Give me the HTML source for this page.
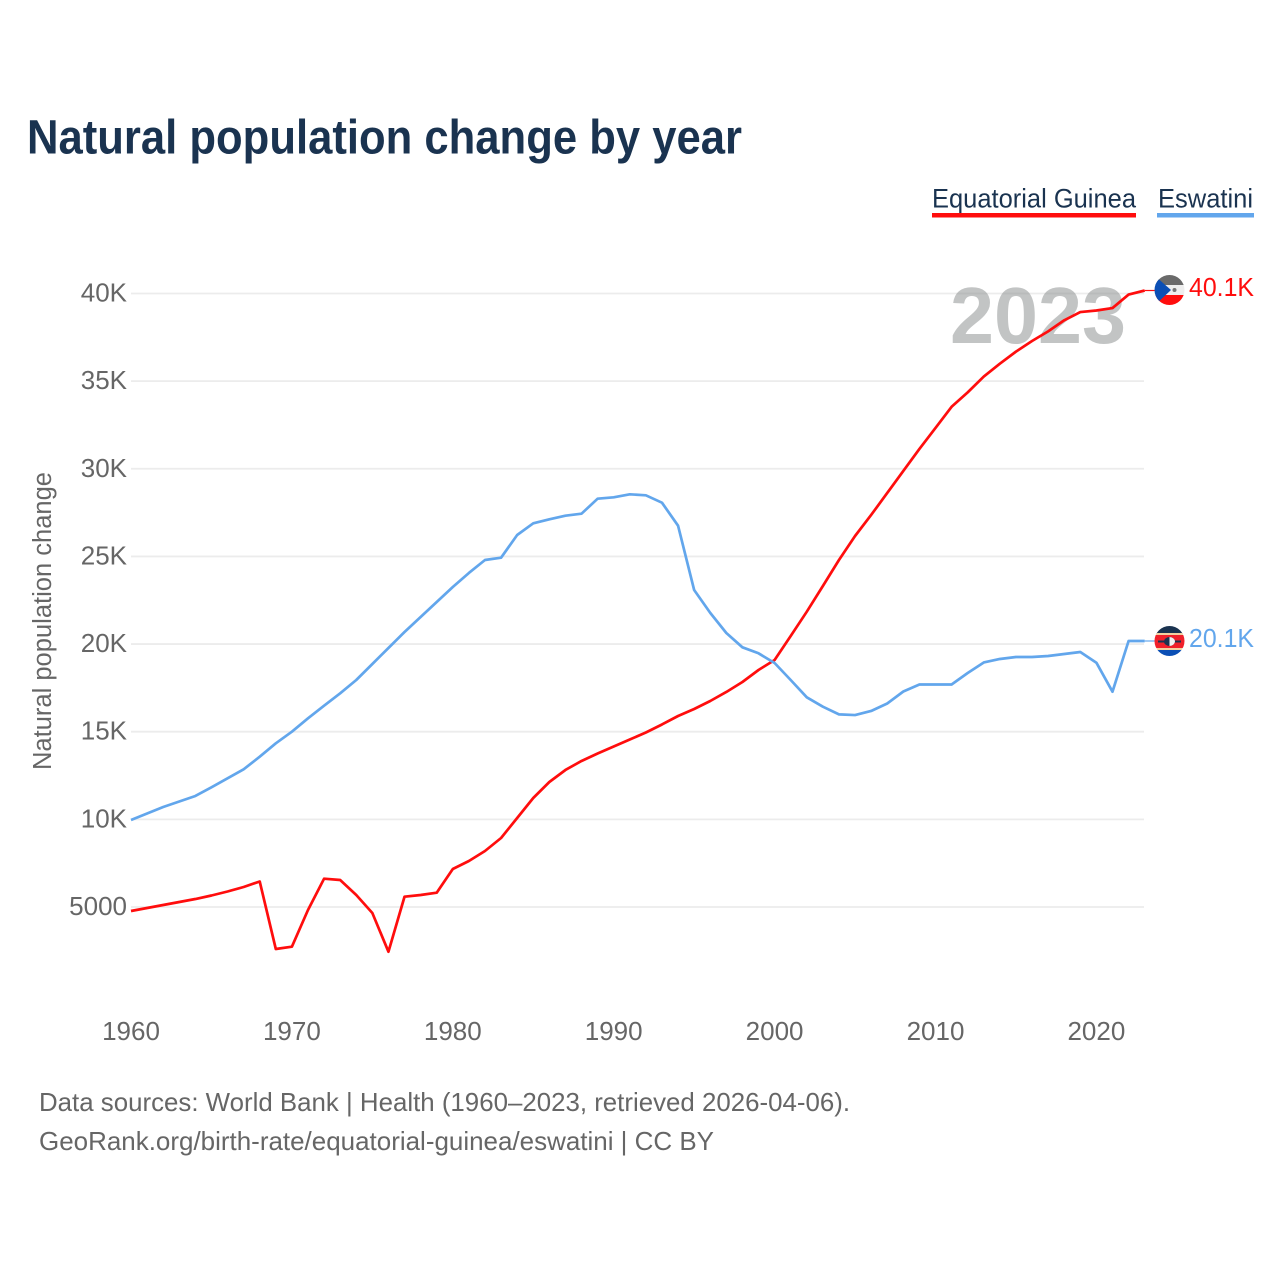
<!DOCTYPE html>
<html lang="en">
<head>
<meta charset="utf-8">
<title>Natural population change by year</title>
<style>
html,body{margin:0;padding:0;background:#fff;width:1280px;height:1280px;overflow:hidden}
svg{display:block;font-family:"Liberation Sans",sans-serif}
</style>
</head>
<body>
<svg id="chart" width="1280" height="1280" viewBox="0 0 1280 1280" xmlns="http://www.w3.org/2000/svg">
  <defs>
    <clipPath id="flag-clip-a"><circle cx="1169.5" cy="290" r="15"/></clipPath>
    <clipPath id="flag-clip-b"><circle cx="1169.5" cy="641" r="15"/></clipPath>
  </defs>
  <text x="27" y="153.5" font-size="48" font-weight="700" fill="#1a3350" textLength="715" lengthAdjust="spacingAndGlyphs">Natural population change by year</text>

  <text x="932" y="207.5" font-size="26.5" fill="#1a3350" textLength="204" lengthAdjust="spacingAndGlyphs">Equatorial Guinea</text>
  <rect x="932" y="213" width="204" height="4.5" fill="#ff0d0d"/>
  <text x="1158" y="207.5" font-size="26.5" fill="#1a3350" textLength="95" lengthAdjust="spacingAndGlyphs">Eswatini</text>
  <rect x="1157" y="213" width="97" height="4.5" fill="#62a6ec"/>

  <g id="grid"></g>
  <g id="y-ticks"></g>
  <g id="x-ticks"></g>

  <text transform="translate(51 621) rotate(-90)" text-anchor="middle" font-size="25.5" fill="#666" textLength="298" lengthAdjust="spacingAndGlyphs">Natural population change</text>

  <text x="950" y="343" font-size="80" font-weight="700" fill="#8a8e8e" fill-opacity="0.52" textLength="176" lengthAdjust="spacingAndGlyphs">2023</text>

  <g id="series"></g>

  <g clip-path="url(#flag-clip-a)">
    <rect x="1154" y="275" width="31" height="10" fill="#6a6a6a"/>
    <rect x="1154" y="285" width="31" height="10" fill="#eeeeee"/>
    <rect x="1154" y="295" width="31" height="11" fill="#ff0d0d"/>
    <polygon points="1154,275 1154,306 1171,290" fill="#0b4fb5"/>
    <circle cx="1174.5" cy="290" r="2" fill="#777"/>
  </g>
  <g clip-path="url(#flag-clip-b)">
    <rect x="1154" y="626" width="31" height="8" fill="#1a3350"/>
    <rect x="1154" y="633" width="31" height="2" fill="#f3d0a0"/>
    <rect x="1154" y="635" width="31" height="13" fill="#f0202a"/>
    <rect x="1154" y="648" width="31" height="2" fill="#f3d0a0"/>
    <rect x="1154" y="650" width="31" height="7" fill="#0b4fb5"/>
    <rect x="1158" y="640.5" width="23" height="2" fill="#1a3350"/>
    <ellipse cx="1169.5" cy="641.5" rx="5.5" ry="4.5" fill="#1a3350"/>
    <path d="M1169.5 637 a5.5 4.5 0 0 1 0 9 z" fill="#f2f2f2"/>
  </g>

  <text x="1189" y="296" font-size="26" fill="#ff0d0d" textLength="65" lengthAdjust="spacingAndGlyphs">40.1K</text>
  <text x="1189" y="647" font-size="26" fill="#62a6ec" textLength="65" lengthAdjust="spacingAndGlyphs">20.1K</text>

  <text x="39" y="1111" font-size="26" fill="#666" textLength="811" lengthAdjust="spacingAndGlyphs">Data sources: World Bank | Health (1960–2023, retrieved 2026-04-06).</text>
  <text x="39" y="1150" font-size="26" fill="#666" textLength="675" lengthAdjust="spacingAndGlyphs">GeoRank.org/birth-rate/equatorial-guinea/eswatini | CC BY</text>
</svg>
<script>
const firstYear = 1960;
const yTickValues = [5000, 10000, 15000, 20000, 25000, 30000, 35000, 40000];
const yTickLabels = ["5000", "10K", "15K", "20K", "25K", "30K", "35K", "40K"];
const xTickValues = [1960, 1970, 1980, 1990, 2000, 2010, 2020];
const equatorialGuinea = [
  4772, 4943, 5114, 5285, 5456, 5656, 5884, 6141, 6455, 2604,
  2735, 4829, 6615, 6540, 5685, 4658, 2450, 5588, 5685, 5816,
  7168, 7624, 8195, 8936, 10077, 11218, 12131, 12816, 13330, 13757,
  14157, 14556, 14955, 15412, 15896, 16296, 16752, 17266, 17836, 18520,
  19090, 20460, 21847, 23313, 24796, 26165, 27364, 28619, 29874, 31130,
  32327, 33536, 34360, 35260, 35996, 36683, 37290, 37840, 38470, 38940,
  39030, 39170, 39940, 40170
];
const eswatini = [
  9963, 10334, 10705, 11019, 11333, 11829, 12342, 12855, 13574, 14339,
  15001, 15765, 16484, 17192, 17950, 18863, 19776, 20689, 21545, 22400,
  23256, 24055, 24796, 24928, 26222, 26890, 27118, 27323, 27437, 28293,
  28373, 28544, 28487, 28065, 26753, 23085, 21780, 20632, 19815, 19474,
  18920, 17950, 16963, 16427, 15990, 15951, 16182, 16610, 17294, 17694,
  17694, 17694, 18350, 18949, 19149, 19263, 19263, 19320, 19434, 19548,
  18937, 17283, 20175, 20175
];

const NS = "http://www.w3.org/2000/svg";
function xScale(year) { return 131 + (year - 1960) * 16.09; }
function yScale(v) { return 907 - (v - 5000) * 0.017529; }

const grid = document.getElementById("grid");
const yTicks = document.getElementById("y-ticks");
const xTicks = document.getElementById("x-ticks");
const seriesGroup = document.getElementById("series");

yTickValues.forEach(function (v, i) {
  const line = document.createElementNS(NS, "line");
  
  
  line.setAttribute("x1", xScale(1960));
  line.setAttribute("x2", 1144);
  line.setAttribute("y1", yScale(v));
  line.setAttribute("y2", yScale(v));
  line.setAttribute("stroke", "#ececec");
  line.setAttribute("stroke-width", "1.8");
  grid.appendChild(line);

  const label = document.createElementNS(NS, "text");
  
  
  label.setAttribute("x", 127);
  label.setAttribute("y", yScale(v) + 8);
  label.setAttribute("text-anchor", "end");
  label.setAttribute("font-size", "26");
  label.setAttribute("fill", "#666");
  label.textContent = yTickLabels[i];
  yTicks.appendChild(label);
});

xTickValues.forEach(function (year) {
  const label = document.createElementNS(NS, "text");
  
  
  label.setAttribute("x", xScale(year));
  label.setAttribute("y", 1040);
  label.setAttribute("text-anchor", "middle");
  label.setAttribute("font-size", "26");
  label.setAttribute("fill", "#666");
  label.textContent = String(year);
  xTicks.appendChild(label);
});

function pointsFor(values) {
  return values.map(function (v, i) {
    return xScale(firstYear + i).toFixed(2) + "," + yScale(v).toFixed(2);
  }).join(" ");
}

const redLine = document.createElementNS(NS, "polyline");


redLine.setAttribute("points", pointsFor(equatorialGuinea));
redLine.setAttribute("fill", "none");
redLine.setAttribute("stroke", "#ff0d0d");
redLine.setAttribute("stroke-width", "2.7");
redLine.setAttribute("stroke-linejoin", "round");
seriesGroup.appendChild(redLine);

const blueLine = document.createElementNS(NS, "polyline");


blueLine.setAttribute("points", pointsFor(eswatini));
blueLine.setAttribute("fill", "none");
blueLine.setAttribute("stroke", "#62a6ec");
blueLine.setAttribute("stroke-width", "2.7");
blueLine.setAttribute("stroke-linejoin", "round");
seriesGroup.appendChild(blueLine);

const redTail = document.createElementNS(NS, "line");


redTail.setAttribute("x1", xScale(2023));
redTail.setAttribute("x2", 1155);
redTail.setAttribute("y1", yScale(equatorialGuinea[equatorialGuinea.length - 1]));
redTail.setAttribute("y2", yScale(equatorialGuinea[equatorialGuinea.length - 1]));
redTail.setAttribute("stroke", "#ff0d0d");
redTail.setAttribute("stroke-width", "1.2");
seriesGroup.appendChild(redTail);

const blueTail = document.createElementNS(NS, "line");


blueTail.setAttribute("x1", xScale(2023));
blueTail.setAttribute("x2", 1155);
blueTail.setAttribute("y1", yScale(eswatini[eswatini.length - 1]));
blueTail.setAttribute("y2", yScale(eswatini[eswatini.length - 1]));
blueTail.setAttribute("stroke", "#62a6ec");
blueTail.setAttribute("stroke-width", "1.2");
seriesGroup.appendChild(blueTail);
</script>
</body>
</html>
